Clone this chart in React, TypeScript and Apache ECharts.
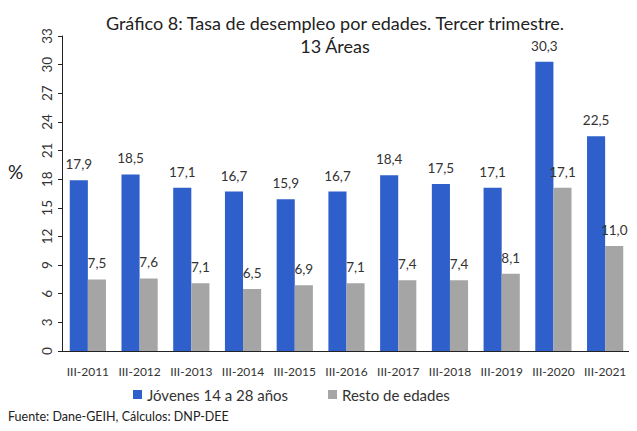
import React, { useEffect, useRef } from "react";
import * as echarts from "echarts";

const categories = ["III-2011", "III-2012", "III-2013", "III-2014", "III-2015", "III-2016", "III-2017", "III-2018", "III-2019", "III-2020", "III-2021"];
const jovenes = [17.9, 18.5, 17.1, 16.7, 15.9, 16.7, 18.4, 17.5, 17.1, 30.3, 22.5];
const resto = [7.5, 7.6, 7.1, 6.5, 6.9, 7.1, 7.4, 7.4, 8.1, 17.1, 11.0];
const seriesNames = ["Jóvenes 14 a 28 años", "Resto de edades"];
const titleText = "Gráfico 8: Tasa de desempleo por edades. Tercer trimestre.\n13 Áreas";
const sourceText = "Fuente: Dane-GEIH, Cálculos: DNP-DEE";

const FONT = "Lato, 'Open Sans', sans-serif";

export default function App() {
  const ref = useRef<HTMLDivElement>(null);
  useEffect(() => {
    if (!ref.current) return;
    const chart = echarts.init(ref.current, null, { renderer: "svg" });
    const fmt = (p: any) => Number(p.value).toFixed(1).replace(".", ",");
    chart.setOption({
      animation: false,
      backgroundColor: "#fff",
      textStyle: { fontFamily: FONT },
      title: {
        text: titleText,
        left: 330,
        textAlign: "center",
        top: 6,
        textStyle: { fontFamily: FONT, fontSize: 18, fontWeight: "normal", color: "#222", lineHeight: 23 },
      },
      legend: {
        data: seriesNames,
        bottom: 24,
        left: 128,
        itemWidth: 9,
        itemHeight: 9,
        itemGap: 40,
        icon: "rect",
        textStyle: { fontFamily: FONT, fontSize: 15, color: "#333" },
      },
      graphic: [
        { type: "text", left: 8, top: 162, style: { text: "%", font: `19px ${FONT}`, fill: "#222" } },
        { type: "text", left: 8, top: 410, style: { text: sourceText, font: `12.5px ${FONT}`, fill: "#222" } },
      ],
      grid: { left: 62, right: 6, top: 36, bottom: 80, containLabel: false },
      xAxis: {
        type: "category",
        data: categories,
        axisLine: { lineStyle: { color: "#222", width: 1 } },
        axisTick: { show: false },
        axisLabel: { fontFamily: FONT, fontSize: 12, color: "#333", margin: 14, interval: 0 },
      },
      yAxis: {
        type: "value",
        min: 0,
        max: 33,
        interval: 3,
        splitLine: { show: false },
        axisLine: { show: true, lineStyle: { color: "#222" } },
        axisTick: { show: true, inside: false, length: 4, lineStyle: { color: "#222" } },
        axisLabel: { fontFamily: FONT, fontSize: 13.5, color: "#333", rotate: 90, margin: 8 },
      },
      series: [
        {
          name: seriesNames[0],
          type: "bar",
          data: jovenes,
          barGap: "0%",
          barCategoryGap: "30%",
          itemStyle: { color: "#2F5FCB" },
          label: { show: true, position: "top", distance: 9, formatter: fmt, fontFamily: FONT, fontSize: 13.5, color: "#333" },
        },
        {
          name: seriesNames[1],
          type: "bar",
          data: resto,
          itemStyle: { color: "#A5A5A5" },
          label: { show: true, position: "top", distance: 9, formatter: fmt, fontFamily: FONT, fontSize: 13.5, color: "#333" },
        },
      ],
    });
    return () => chart.dispose();
  }, []);
  return <div ref={ref} style={{ width: 637, height: 431, margin: -8 }} />;
}
